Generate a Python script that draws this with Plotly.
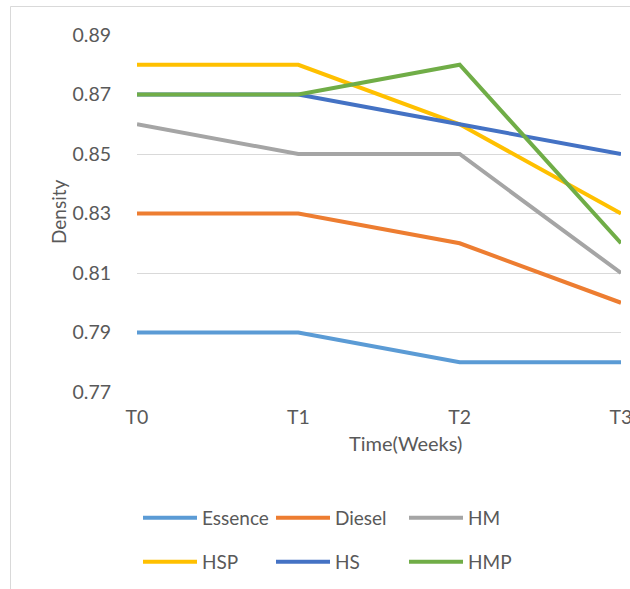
import plotly.graph_objects as go

# Density of each fuel sample over the storage period
weeks = ["T0", "T1", "T2", "T3"]
essence = [0.79, 0.79, 0.78, 0.78]
diesel = [0.83, 0.83, 0.82, 0.80]
hm = [0.86, 0.85, 0.85, 0.81]
hsp = [0.88, 0.88, 0.86, 0.83]
hs = [0.87, 0.87, 0.86, 0.85]
hmp = [0.87, 0.87, 0.88, 0.82]

series = [
    ("Essence", essence, "#5B9BD5", "legend"),
    ("Diesel", diesel, "#ED7D31", "legend"),
    ("HM", hm, "#A5A5A5", "legend"),
    ("HSP", hsp, "#FFC000", "legend2"),
    ("HS", hs, "#4472C4", "legend2"),
    ("HMP", hmp, "#70AD47", "legend2"),
]

FONT = "Lato"
TXT = "#595959"
W, H = 630, 589
L, R, T, B = 137, 9, 35, 197
PW, PH = W - L - R, H - T - B


def px_x(x):
    return (x - L) / PW


def px_y(y):
    return (H - B - y) / PH


fig = go.Figure()
for name, vals, color, leg in series:
    fig.add_trace(go.Scatter(
        x=list(range(len(weeks))), y=vals, name=name, mode="lines",
        line=dict(color=color, width=4), legend=leg,
    ))

legend_common = dict(
    orientation="h", xref="paper", yref="paper", xanchor="left", yanchor="middle",
    font=dict(family=FONT, size=19, color=TXT), bgcolor="rgba(0,0,0,0)",
    entrywidth=64, entrywidthmode="pixels", itemwidth=54, tracegroupgap=0,
)

fig.update_layout(
    width=W, height=H,
    margin=dict(l=L, r=R, t=T, b=B, autoexpand=False),
    paper_bgcolor="white", plot_bgcolor="white",
    font=dict(family=FONT, size=19, color=TXT),
    showlegend=True,
    legend=dict(x=px_x(138), y=px_y(518), **legend_common),
    legend2=dict(x=px_x(138), y=px_y(562), **legend_common),
    xaxis=dict(
        range=[0, 3], tickmode="array", tickvals=list(range(len(weeks))),
        ticktext=weeks, showgrid=False, zeroline=False, showline=False,
        ticks="outside", ticklen=8, tickcolor="rgba(0,0,0,0)",
        ticklabeloverflow="allow",
        tickfont=dict(family=FONT, size=19.5, color=TXT),
    ),
    yaxis=dict(
        range=[0.77, 0.89], tick0=0.77, dtick=0.02, tickformat=".2f",
        showgrid=True, gridcolor="#D9D9D9", gridwidth=1, zeroline=False,
        showline=False, ticks="outside", ticklen=21, tickcolor="rgba(0,0,0,0)",
        tickfont=dict(family=FONT, size=19.5, color=TXT),
    ),
    annotations=[
        dict(text="Time(Weeks)", xref="paper", yref="paper", x=px_x(405), y=px_y(443),
             showarrow=False, xanchor="center", yanchor="middle",
             font=dict(family=FONT, size=20, color=TXT)),
        dict(text="Density", xref="paper", yref="paper", x=px_x(58), y=px_y(212),
             showarrow=False, xanchor="center", yanchor="middle", textangle=-90,
             font=dict(family=FONT, size=19, color=TXT)),
    ],
    shapes=[
        dict(type="rect", xref="paper", yref="paper", x0=px_x(10.5), x1=px_x(660),
             y0=px_y(620), y1=px_y(6.5), line=dict(color="#D9D9D9", width=1),
             fillcolor="rgba(0,0,0,0)", layer="below"),
    ],
)

fig.write_html("out.html")
